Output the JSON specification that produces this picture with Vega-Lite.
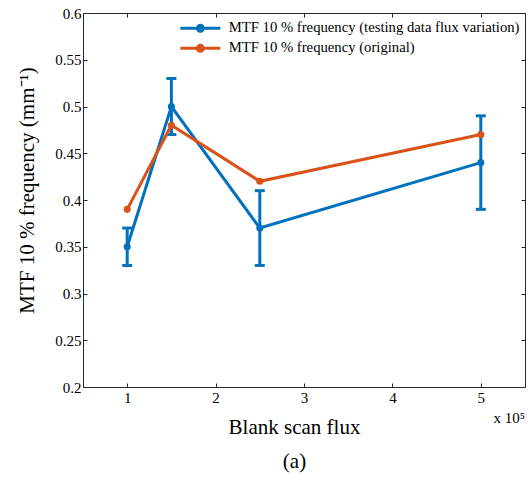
{
  "$schema": "https://vega.github.io/schema/vega-lite/v6.json",
  "width": 442,
  "height": 374,
  "autosize": "none",
  "padding": {"left": 83, "top": 13, "right": 3, "bottom": 93},
  "background": "white",
  "config": {
    "font": "Liberation Serif",
    "view": {"stroke": null},
    "axis": {
      "labelFont": "Liberation Serif",
      "titleFont": "Liberation Serif",
      "domainColor": "#262626",
      "domainWidth": 1,
      "tickColor": "#262626",
      "tickWidth": 1,
      "tickSize": -4,
      "labelColor": "#000000",
      "titleColor": "#000000",
      "grid": false,
      "labelFontSize": 15,
      "titleFontWeight": "normal"
    }
  },
  "datasets": {
    "d": [
      {"series": "MTF 10 % frequency (testing data flux variation)", "flux": 1, "mtf": 0.35, "lo": 0.33, "hi": 0.37},
      {"series": "MTF 10 % frequency (testing data flux variation)", "flux": 1.5, "mtf": 0.50, "lo": 0.47, "hi": 0.53},
      {"series": "MTF 10 % frequency (testing data flux variation)", "flux": 2.5, "mtf": 0.37, "lo": 0.33, "hi": 0.41},
      {"series": "MTF 10 % frequency (testing data flux variation)", "flux": 5, "mtf": 0.44, "lo": 0.39, "hi": 0.49},
      {"series": "MTF 10 % frequency (original)", "flux": 1, "mtf": 0.39, "lo": null, "hi": null},
      {"series": "MTF 10 % frequency (original)", "flux": 1.5, "mtf": 0.48, "lo": null, "hi": null},
      {"series": "MTF 10 % frequency (original)", "flux": 2.5, "mtf": 0.42, "lo": null, "hi": null},
      {"series": "MTF 10 % frequency (original)", "flux": 5, "mtf": 0.47, "lo": null, "hi": null}
    ]
  },
  "data": {"name": "d"},
  "layer": [
    {
      "layer": [
        {
          "transform": [{"filter": "datum.lo != null"}],
          "mark": {"type": "rule", "color": "#0072BD", "strokeWidth": 3},
          "encoding": {
            "x": {"field": "flux", "type": "quantitative",
              "scale": {"domain": [0.5, 5.5], "nice": false, "zero": false},
              "axis": {"values": [1, 2, 3, 4, 5], "format": "d", "labelPadding": 7, "title": ["Blank scan flux", "(a)"],
                "titleFontSize": 21, "titleLineHeight": 34, "titleX": 211, "titleY": 46,
                "titleBaseline": "alphabetic", "titleAlign": "center"}},
            "y": {"field": "lo", "type": "quantitative",
              "scale": {"domain": [0.2, 0.6], "nice": false, "zero": false},
              "axis": {"values": [0.2, 0.25, 0.3, 0.35, 0.4, 0.45, 0.5, 0.55, 0.6], "format": ".2~f",
                "labelPadding": 6, "title": "MTF 10 % frequency (mm⁻¹)", "titleFontSize": 21,
                "titleX": -56, "titleY": 177, "titleAngle": -90, "titleAlign": "center", "titleBaseline": "middle"}},
            "y2": {"field": "hi"}
          }
        },
        {
          "transform": [{"filter": "datum.lo != null"}],
          "mark": {"type": "tick", "orient": "horizontal", "size": 10, "thickness": 3, "color": "#0072BD", "opacity": 1},
          "encoding": {
            "x": {"field": "flux", "type": "quantitative"},
            "y": {"field": "lo", "type": "quantitative"}
          }
        },
        {
          "transform": [{"filter": "datum.lo != null"}],
          "mark": {"type": "tick", "orient": "horizontal", "size": 10, "thickness": 3, "color": "#0072BD", "opacity": 1},
          "encoding": {
            "x": {"field": "flux", "type": "quantitative"},
            "y": {"field": "hi", "type": "quantitative"}
          }
        },
        {
          "mark": {"type": "line", "strokeWidth": 3},
          "encoding": {
            "x": {"field": "flux", "type": "quantitative"},
            "y": {"field": "mtf", "type": "quantitative"},
            "stroke": {"field": "series", "type": "nominal",
              "scale": {"domain": ["MTF 10 % frequency (testing data flux variation)", "MTF 10 % frequency (original)"], "range": ["#0072BD", "#D95319"]},
              "legend": {"title": null, "orient": "none", "legendX": 110, "legendY": 8,
                "symbolType": "M-5,0H5M0.75,0A0.75,0.75,0,1,1,-0.75,0A0.75,0.75,0,1,1,0.75,0Z",
                "symbolSize": 64, "symbolStrokeWidth": 3, "labelFontSize": 14.7, "labelOffset": 21,
                "labelLimit": 400, "rowPadding": 1, "padding": 0, "labelColor": "#000000", "labelFont": "Liberation Serif"}}
          }
        },
        {
          "mark": {"type": "point", "filled": true, "size": 50, "opacity": 1},
          "encoding": {
            "x": {"field": "flux", "type": "quantitative"},
            "y": {"field": "mtf", "type": "quantitative"},
            "fill": {"field": "series", "type": "nominal",
              "scale": {"domain": ["MTF 10 % frequency (testing data flux variation)", "MTF 10 % frequency (original)"], "range": ["#0072BD", "#D95319"]},
              "legend": {"title": null, "orient": "none", "legendX": 110, "legendY": 8,
                "symbolType": "M-5,0H5M0.75,0A0.75,0.75,0,1,1,-0.75,0A0.75,0.75,0,1,1,0.75,0Z",
                "symbolSize": 64, "symbolStrokeWidth": 3, "labelFontSize": 14.7, "labelOffset": 21,
                "labelLimit": 400, "rowPadding": 1, "padding": 0, "labelColor": "#000000", "labelFont": "Liberation Serif"}}
          }
        },
        {
          "data": {"values": [{"flux": 5.5, "mtf": 0.2, "label": "x 10⁵"}]},
          "mark": {"type": "text", "align": "right", "baseline": "alphabetic", "dx": 0, "dy": 36, "fontSize": 15, "font": "Liberation Serif", "color": "#000000"},
          "encoding": {
            "x": {"field": "flux", "type": "quantitative"},
            "y": {"field": "mtf", "type": "quantitative"},
            "text": {"field": "label"}
          }
        }
      ]
    },
    {
      "mark": {"type": "point", "opacity": 0},
      "encoding": {
        "x": {"field": "flux", "type": "quantitative",
          "scale": {"domain": [0.5, 5.5], "nice": false, "zero": false},
          "axis": {"orient": "top", "values": [1, 2, 3, 4, 5], "labels": false, "title": null}},
        "y": {"field": "mtf", "type": "quantitative",
          "scale": {"domain": [0.2, 0.6], "nice": false, "zero": false},
          "axis": {"orient": "right", "values": [0.2, 0.25, 0.3, 0.35, 0.4, 0.45, 0.5, 0.55, 0.6], "labels": false, "title": null}}
      }
    }
  ],
  "resolve": {"axis": {"x": "independent", "y": "independent"}}
}
